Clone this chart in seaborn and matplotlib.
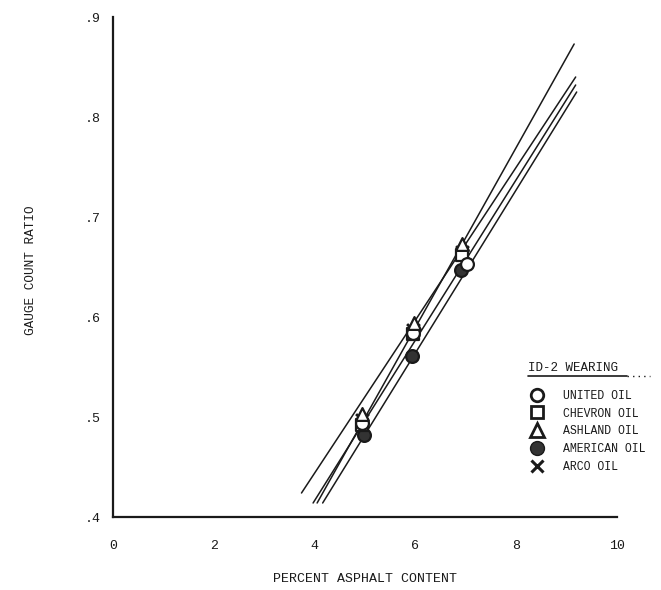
import matplotlib
matplotlib.use("Agg")
import matplotlib.pyplot as plt
import seaborn as sns
import pandas as pd
from matplotlib.lines import Line2D

# ---- data ----
oil_names = ["UNITED OIL", "CHEVRON OIL", "ASHLAND OIL", "AMERICAN OIL", "ARCO OIL"]

united_x = [4.95, 5.95, 7.03]
united_y = [0.494, 0.584, 0.653]
chevron_x = [4.95, 5.95, 6.92]
chevron_y = [0.492, 0.583, 0.662]
ashland_x = [4.95, 5.97, 6.92]
ashland_y = [0.503, 0.594, 0.673]
american_x = [4.98, 5.93, 6.90]
american_y = [0.482, 0.561, 0.647]
arco_x = [4.95, 5.95, 6.92]
arco_y = [0.497, 0.587, 0.665]

# fitted lines (start / end points)
line_x0 = [3.74, 4.05, 3.97, 4.16]
line_y0 = [0.424, 0.414, 0.414, 0.414]
line_x1 = [9.18, 9.15, 9.18, 9.20]
line_y1 = [0.840, 0.873, 0.832, 0.825]

x_ticks = [0, 2, 4, 6, 8, 10]
x_tick_labels = ["0", "2", "4", "6", "8", "10"]
y_ticks = [0.4, 0.5, 0.6, 0.7, 0.8, 0.9]
y_tick_labels = [".4", ".5", ".6", ".7", ".8", ".9"]

x_label = "PERCENT ASPHALT CONTENT"
y_label = "GAUGE COUNT RATIO"
legend_title = "ID-2 WEARING"

# ---- styling ----
sns.set_theme(style="white")
plt.rcParams["font.family"] = ["Liberation Mono", "DejaVu Sans Mono"]
ink = "#1a1a1a"

fig = plt.figure(figsize=(6.61, 5.90), dpi=100)
ax = fig.add_axes([113 / 661, 1 - 517 / 590, 504 / 661, 500 / 590])

# lines
for x0, y0, x1, y1 in zip(line_x0, line_y0, line_x1, line_y1):
    df_line = pd.DataFrame({"x": [x0, x1], "y": [y0, y1]})
    sns.lineplot(data=df_line, x="x", y="y", ax=ax, color=ink, linewidth=1.1,
                 zorder=2, legend=False)

ms = 85
series = [
    (american_x, american_y, "o", "#333333", ink),
    (arco_x, arco_y, "X", None, ink),
    (chevron_x, chevron_y, "s", "white", ink),
    (united_x, united_y, "o", "white", ink),
    (ashland_x, ashland_y, "^", "white", ink),
]
for xs, ys, mk, fc, ec in series:
    df = pd.DataFrame({"x": xs, "y": ys})
    if mk == "X":
        sns.scatterplot(data=df, x="x", y="y", ax=ax, marker="x", s=ms,
                        color=ec, linewidth=2.0, zorder=3, legend=False)
    else:
        sns.scatterplot(data=df, x="x", y="y", ax=ax, marker=mk, s=ms,
                        facecolor=fc, edgecolor=ec, linewidth=1.6, zorder=3,
                        legend=False)

ax.set_xlim(0, 10)
ax.set_ylim(0.4, 0.9)
ax.set_xticks(x_ticks)
ax.set_xticklabels(x_tick_labels)
ax.set_yticks(y_ticks)
ax.set_yticklabels(y_tick_labels)

for side in ["top", "right"]:
    ax.spines[side].set_visible(False)
for side in ["left", "bottom"]:
    ax.spines[side].set_color(ink)
    ax.spines[side].set_linewidth(1.6)

ax.tick_params(axis="x", direction="inout", length=9, width=1.6, colors=ink,
               labelsize=9.5, pad=12)
ax.tick_params(axis="y", direction="out", length=4, width=1.2, colors=ink,
               labelsize=9.5, pad=5)

ax.set_xlabel(x_label, fontsize=9.5, color=ink)
ax.set_ylabel(y_label, fontsize=9.2, color=ink)
ax.xaxis.set_label_coords(0.5, -0.112)
ax.yaxis.set_label_coords(-0.15, 0.494)

# legend (title drawn as separate underlined text)
fig.text(528 / 661, 1 - 368 / 590, legend_title, fontsize=9, color=ink,
         ha="left", va="center")
fig.add_artist(Line2D([528 / 661, 627 / 661], [1 - 376 / 590, 1 - 376 / 590],
                      color=ink, linewidth=1.2))
fig.add_artist(Line2D([627 / 661, 650 / 661], [1 - 376 / 590, 1 - 376 / 590],
                      color=ink, linewidth=1.0, linestyle=(0, (1, 3))))

handles = [
    Line2D([], [], marker="o", linestyle="none", markersize=9,
           markerfacecolor="white", markeredgecolor=ink, markeredgewidth=2),
    Line2D([], [], marker="s", linestyle="none", markersize=9,
           markerfacecolor="white", markeredgecolor=ink, markeredgewidth=2),
    Line2D([], [], marker="^", linestyle="none", markersize=10,
           markerfacecolor="white", markeredgecolor=ink, markeredgewidth=2),
    Line2D([], [], marker="o", linestyle="none", markersize=10,
           markerfacecolor="#333333", markeredgecolor=ink, markeredgewidth=1),
    Line2D([], [], marker="x", linestyle="none", markersize=9,
           markeredgecolor=ink, markeredgewidth=2.2),
]
leg = ax.legend(handles, oil_names, frameon=False,
                loc="upper left", bbox_to_anchor=(412 / 504, 1 - 367 / 500),
                fontsize=8.3, handlelength=1.0,
                handletextpad=1.8, labelspacing=0.5, borderpad=0)
for t in leg.get_texts():
    t.set_color(ink)

fig.savefig("out.png", dpi=100, facecolor="white")
